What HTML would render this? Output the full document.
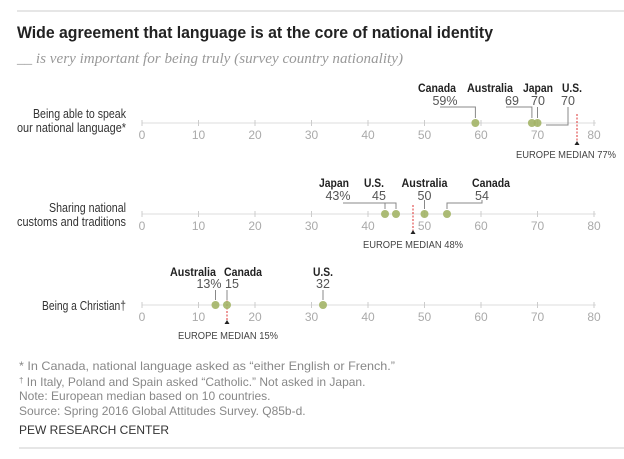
<!DOCTYPE html>
<html><head><meta charset="utf-8"><style>
html,body{margin:0;padding:0;background:#fff;}
svg{display:block;font-family:"Liberation Sans",sans-serif;}
</style></head><body>
<svg width="624" height="459" viewBox="0 0 624 459" xmlns="http://www.w3.org/2000/svg">
<line x1="17" y1="11" x2="624" y2="11" stroke="#ddd" stroke-width="1.5"/>
<text x="17" y="38" font-weight="bold" font-size="17" fill="#222" textLength="476" lengthAdjust="spacingAndGlyphs">Wide agreement that language is at the core of national identity</text>
<text x="17" y="63" font-family="Liberation Serif,serif" font-style="italic" font-size="15" fill="#999" textLength="386" lengthAdjust="spacingAndGlyphs">__ is very important for being truly (survey country nationality)</text>

<g font-size="13" fill="#333" text-anchor="end">
<text x="126" y="118" textLength="93" lengthAdjust="spacingAndGlyphs">Being able to speak</text>
<text x="126" y="132" textLength="109" lengthAdjust="spacingAndGlyphs">our national language*</text>
<text x="126" y="212" textLength="77" lengthAdjust="spacingAndGlyphs">Sharing national</text>
<text x="126" y="226" textLength="109" lengthAdjust="spacingAndGlyphs">customs and traditions</text>
<text x="126" y="310" textLength="84" lengthAdjust="spacingAndGlyphs">Being a Christian†</text>
</g>

<g stroke="#ddd" stroke-width="1">
<line x1="142" y1="123" x2="596" y2="123"/>
<line x1="142" y1="214" x2="596" y2="214"/>
<line x1="142" y1="305" x2="596" y2="305"/>
</g>
<g stroke="#ccc" stroke-width="1">
<path d="M142 120v6M198.5 120v6M255 120v6M311.5 120v6M368 120v6M424.5 120v6M481 120v6M537.5 120v6M594 120v6"/>
<path d="M142 211v6M198.5 211v6M255 211v6M311.5 211v6M368 211v6M424.5 211v6M481 211v6M537.5 211v6M594 211v6"/>
<path d="M142 302v6M198.5 302v6M255 302v6M311.5 302v6M368 302v6M424.5 302v6M481 302v6M537.5 302v6M594 302v6"/>
</g>
<g font-size="12" fill="#aaa" text-anchor="middle">
<text x="142" y="139">0</text><text x="198.5" y="139">10</text><text x="255" y="139">20</text><text x="311.5" y="139">30</text><text x="368" y="139">40</text><text x="424.5" y="139">50</text><text x="481" y="139">60</text><text x="537.5" y="139">70</text><text x="594" y="139">80</text>
<text x="142" y="230">0</text><text x="198.5" y="230">10</text><text x="255" y="230">20</text><text x="311.5" y="230">30</text><text x="368" y="230">40</text><text x="424.5" y="230">50</text><text x="481" y="230">60</text><text x="537.5" y="230">70</text><text x="594" y="230">80</text>
<text x="142" y="321">0</text><text x="198.5" y="321">10</text><text x="255" y="321">20</text><text x="311.5" y="321">30</text><text x="368" y="321">40</text><text x="424.5" y="321">50</text><text x="481" y="321">60</text><text x="537.5" y="321">70</text><text x="594" y="321">80</text>
</g>

<g stroke="#d33" stroke-width="1" stroke-dasharray="2,1.5">
<line x1="577" y1="114" x2="577" y2="142"/>
<line x1="413" y1="205" x2="413" y2="231"/>
<line x1="227" y1="297" x2="227" y2="321"/>
</g>
<g fill="#222">
<path d="M577 141l-2.5 4h5z"/><path d="M413 230l-2.5 4h5z"/><path d="M227 320l-2.5 4h5z"/>
</g>
<g font-size="10" fill="#444" text-anchor="middle">
<text x="566" y="158" textLength="100" lengthAdjust="spacingAndGlyphs">EUROPE MEDIAN 77%</text>
<text x="413" y="248" textLength="100" lengthAdjust="spacingAndGlyphs">EUROPE MEDIAN 48%</text>
<text x="228" y="339" textLength="100" lengthAdjust="spacingAndGlyphs">EUROPE MEDIAN 15%</text>
</g>

<g fill="none" stroke="#888" stroke-width="1">
<path d="M440 107H475.4V118"/>
<path d="M506 107H531.9V118"/>
<path d="M537.5 107V118"/>
<path d="M568 107V125H546"/>
<path d="M343 203H385V209"/>
<path d="M379 203H396V209"/>
<path d="M424.5 200V209"/>
<path d="M482 200V203H447V209"/>
<path d="M215.5 290V300"/>
<path d="M227 290V300"/>
<path d="M323 290V300"/>
</g>

<g fill="#a3b466" fill-opacity="0.9">
<circle cx="475.4" cy="123" r="4"/>
<circle cx="531.9" cy="123" r="4"/>
<circle cx="537.5" cy="123" r="4"/>
<circle cx="385" cy="214" r="4"/>
<circle cx="396" cy="214" r="4"/>
<circle cx="424.5" cy="214" r="4"/>
<circle cx="447" cy="214" r="4"/>
<circle cx="215.5" cy="305" r="4"/>
<circle cx="227" cy="305" r="4"/>
<circle cx="323" cy="305" r="4"/>
</g>

<g font-size="12" font-weight="bold" fill="#222" text-anchor="middle">
<text x="437" y="92" textLength="38" lengthAdjust="spacingAndGlyphs">Canada</text><text x="490" y="92" textLength="46" lengthAdjust="spacingAndGlyphs">Australia</text><text x="538" y="92" textLength="30" lengthAdjust="spacingAndGlyphs">Japan</text><text x="572" y="92" textLength="20" lengthAdjust="spacingAndGlyphs">U.S.</text>
<text x="334" y="187" textLength="30" lengthAdjust="spacingAndGlyphs">Japan</text><text x="374" y="187" textLength="20" lengthAdjust="spacingAndGlyphs">U.S.</text><text x="424.5" y="187" textLength="46" lengthAdjust="spacingAndGlyphs">Australia</text><text x="491" y="187" textLength="38" lengthAdjust="spacingAndGlyphs">Canada</text>
<text x="193" y="276" textLength="46" lengthAdjust="spacingAndGlyphs">Australia</text><text x="243" y="276" textLength="38" lengthAdjust="spacingAndGlyphs">Canada</text><text x="323" y="276" textLength="20" lengthAdjust="spacingAndGlyphs">U.S.</text>
</g>
<g font-size="12.5" fill="#555" text-anchor="middle">
<text x="445" y="105">59%</text><text x="512" y="105">69</text><text x="538" y="105">70</text><text x="568" y="105">70</text>
<text x="338" y="200">43%</text><text x="379" y="200">45</text><text x="424.5" y="200">50</text><text x="482" y="200">54</text>
<text x="209" y="288">13%</text><text x="232" y="288">15</text><text x="323" y="288">32</text>
</g>

<g font-size="12" fill="#888">
<text x="19" y="370" textLength="376" lengthAdjust="spacingAndGlyphs">* In Canada, national language asked as “either English or French.”</text>
<text x="19" y="386"><tspan font-size="8" dy="-3">†</tspan><tspan dy="3"> In Italy, Poland and Spain asked “Catholic.” Not asked in Japan.</tspan></text>
<text x="19" y="400">Note: European median based on 10 countries.</text>
<text x="19" y="415">Source: Spring 2016 Global Attitudes Survey. Q85b-d.</text>
<text x="19" y="434" fill="#333">PEW RESEARCH CENTER</text>
</g>
<line x1="19" y1="448" x2="624" y2="448" stroke="#ddd" stroke-width="1.5"/>
</svg>
</body></html>
